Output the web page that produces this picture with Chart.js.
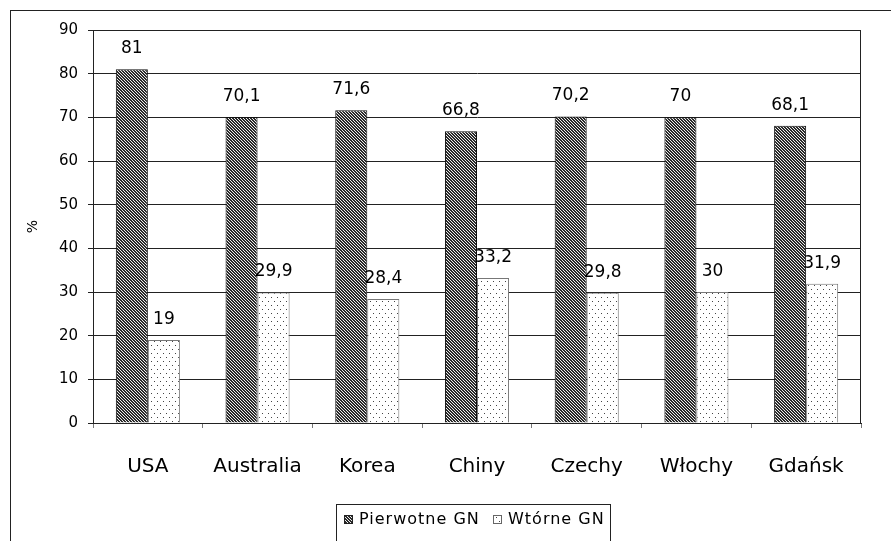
<!DOCTYPE html>
<html>
<head>
<meta charset="utf-8">
<script src="https://cdn.jsdelivr.net/npm/chart.js@4/dist/chart.umd.min.js"></script>
<style>
  html, body { margin: 0; padding: 0; background: #fff; }
  #wrap { width: 891px; height: 541px; position: relative; }
</style>
</head>
<body>
<div id="wrap"><canvas id="c" width="891" height="541"></canvas></div>
<script>
// Categories and series (share of cases, %)
const categories = ['USA', 'Australia', 'Korea', 'Chiny', 'Czechy', 'Włochy', 'Gdańsk'];
const pierwotne = [81, 70.1, 71.6, 66.8, 70.2, 70, 68.1];
const wtorne = [19, 29.9, 28.4, 33.2, 29.8, 30, 31.9];
const seriesNames = ['Pierwotne GN', 'Wtórne GN'];
const yTicks = [0, 10, 20, 30, 40, 50, 60, 70, 80, 90];

const FONT = '"DejaVu Sans", "Liberation Sans", sans-serif';

// Dense diagonal hatch for the first series
function hatchPattern() {
  const t = document.createElement('canvas');
  t.width = 3; t.height = 3;
  const g = t.getContext('2d');
  g.fillStyle = '#eee'; g.fillRect(0, 0, 3, 3);
  g.fillStyle = '#2a2a2a';
  for (let y = 0; y < 3; y++) for (let x = 0; x < 3; x++) {
    const d = ((x - y) % 3 + 3) % 3;
    if (d !== 2) g.fillRect(x, y, 1, 1);
  }
  return g.createPattern(t, 'repeat');
}
// Sparse dot pattern for the second series
function dotPattern() {
  const t = document.createElement('canvas');
  t.width = 6; t.height = 8;
  const g = t.getContext('2d');
  g.fillStyle = '#fff'; g.fillRect(0, 0, 6, 8);
  g.fillStyle = '#444';
  g.fillRect(1, 1, 1, 1);
  g.fillRect(4, 5, 1, 1);
  return g.createPattern(t, 'repeat');
}
const hatch = hatchPattern();
const dots = dotPattern();

// Outer frame, plot frame, value labels and boxed legend
const decor = {
  id: 'decor',
  beforeDraw(chart) {
    const c = chart.ctx;
    c.save();
    c.fillStyle = '#fff';
    c.fillRect(0, 0, chart.width, chart.height);
    c.strokeStyle = '#222';
    c.lineWidth = 1;
    c.strokeRect(10.5, 10.5, chart.width + 10, chart.height + 10);
    c.restore();
  },
  afterDatasetsDraw(chart) {
    const c = chart.ctx;
    const a = chart.chartArea;
    c.save();
    c.strokeStyle = '#222';
    c.lineWidth = 1;
    c.strokeRect(Math.round(a.left) + 0.5, Math.round(a.top) + 0.5,
                 Math.round(a.right - a.left) - 1, Math.round(a.bottom - a.top));
    // value labels
    c.fillStyle = '#000';
    c.font = '17px ' + FONT;
    c.textAlign = 'center';
    c.textBaseline = 'alphabetic';
    chart.data.datasets.forEach((ds, i) => {
      chart.getDatasetMeta(i).data.forEach((bar, j) => {
        const txt = String(ds.data[j]).replace('.', ',');
        c.fillText(txt, bar.x, bar.y - 16);
      });
    });
    // legend
    const lx = 336, ly = 504, lw = 274, lh = 40;
    c.fillStyle = '#fff';
    c.fillRect(lx, ly, lw, lh);
    c.strokeStyle = '#222';
    c.strokeRect(lx + 0.5, ly + 0.5, lw, lh);
    const items = [
      { x: 344, fill: hatch, border: '#222', label: seriesNames[0] },
      { x: 493, fill: dots, border: '#666', label: seriesNames[1] }
    ];
    c.font = '16px ' + FONT;
    c.textAlign = 'left';
    c.textBaseline = 'middle';
    c.letterSpacing = '1px';
    items.forEach(it => {
      c.fillStyle = it.fill;
      c.fillRect(it.x, 515, 9, 9);
      c.strokeStyle = it.border;
      c.strokeRect(it.x + 0.5, 515.5, 8, 8);
      c.fillStyle = '#000';
      c.fillText(it.label, it.x + 15, 520);
    });
    c.restore();
  }
};

new Chart(document.getElementById('c'), {
  type: 'bar',
  data: {
    labels: categories,
    datasets: [
      { label: seriesNames[0], data: pierwotne, backgroundColor: hatch,
        borderColor: '#111', borderWidth: 1, barPercentage: 1, categoryPercentage: 0.584 },
      { label: seriesNames[1], data: wtorne, backgroundColor: dots,
        borderColor: '#777', borderWidth: 1, barPercentage: 1, categoryPercentage: 0.584 }
    ]
  },
  options: {
    responsive: false,
    animation: false,
    layout: { padding: { top: 30, right: 30, left: 10, bottom: 0 } },
    plugins: { legend: { display: false }, tooltip: { enabled: false } },
    scales: {
      x: {
        grid: { display: true, drawOnChartArea: false, drawTicks: true, tickLength: 5,
                color: '#777', offset: true },
        border: { display: true, color: '#222' },
        ticks: { color: '#000', font: { family: FONT, size: 20 }, padding: 27, maxRotation: 0 },
        afterFit(s) { s.height = 118; }
      },
      y: {
        min: 0, max: 90,
        afterBuildTicks(s) { s.ticks = yTicks.map(v => ({ value: v })); },
        grid: { color: '#222', tickLength: 5, drawTicks: true },
        border: { display: true, color: '#222' },
        ticks: { color: '#000', font: { family: FONT, size: 15 }, padding: 10 },
        title: { display: true, text: '%', color: '#000', font: { family: FONT, size: 14 },
                 padding: { top: 15, bottom: 0 } },
        afterFit(s) { s.width = 83; }
      }
    }
  },
  plugins: [decor]
});
</script>
</body>
</html>
